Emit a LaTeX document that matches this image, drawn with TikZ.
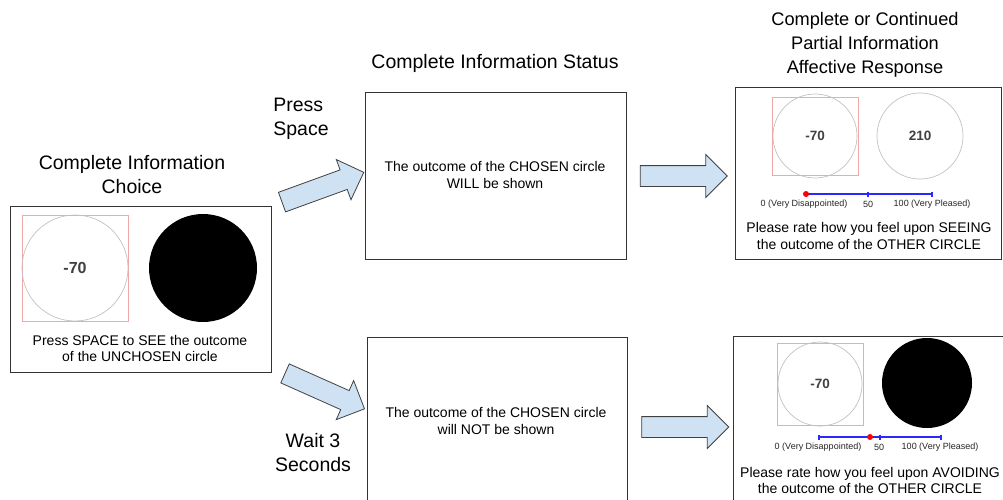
\documentclass[tikz,border=0pt]{standalone}
\usepackage{fontspec}
\setmainfont{Liberation Sans}
\usetikzlibrary{shapes.arrows}
\definecolor{arrowfill}{HTML}{CFE2F3}
\definecolor{framegray}{HTML}{333333}
\definecolor{circgray}{HTML}{C8C0C0}
\definecolor{sqred}{HTML}{F0A8A8}
\definecolor{slblue}{HTML}{2828FF}
\tikzset{
  panel/.style={draw=framegray, line width=1pt, fill=white},
  title/.style={align=center, font=\fontsize{19.5}{24}\selectfont},
  boxtext/.style={align=center, font=\fontsize{14}{16.5}\selectfont},
  small/.style={font=\fontsize{9}{10}\selectfont, text=black!85},
  numlab/.style={font=\bfseries\fontsize{16}{18}\selectfont, text=black!75},
  numsmall/.style={font=\bfseries\fontsize{13.5}{15}\selectfont, text=black!75},
  blockarrow/.style={single arrow, draw=black!75, fill=arrowfill, line width=0.8pt,
    minimum height=87pt, inner xsep=0pt, inner ysep=10pt, text width=0pt, text height=0pt, text depth=0pt,
    single arrow head extend=11pt},
  ring/.style={draw=circgray, line width=0.7pt},
  sq/.style={draw=sqred, line width=0.7pt},
  slider/.style={draw=slblue, line width=1.2pt},
}
\begin{document}
\begin{tikzpicture}[x=1pt,y=-1pt]
\useasboundingbox (0,0) rectangle (1003,500);
\fill[white] (0,0) rectangle (1003,500);

% titles
\node[title] (t1) at (132,175) {Complete Information\\Choice};
\node[title] (t2) at (495,63) {Complete Information Status};
\node[title, font=\fontsize{18.2}{24}\selectfont] (t3) at (865,45) {Complete or Continued\\Partial Information\\Affective Response};
\node[title, align=left] (lp) at (301,119) {Press\\Space};
\node[title] (lw) at (313,453) {Wait 3\\Seconds};

% left panel
\draw[panel] (10,206) rectangle (271,372);
\draw[sq] (22,215) rectangle (128,321);
\draw[ring] (75,268) circle (53);
\node[numlab] (lnum) at (75,268) {-70};
\fill[black] (203,268) circle (54);
\node[boxtext] (ltxt) at (140,348.5) {Press SPACE to SEE the outcome\\of the UNCHOSEN circle};

% middle panels
\draw[panel] (365,93) rectangle (626,259);
\node[boxtext] (mt) at (495,175) {The outcome of the CHOSEN circle\\WILL be shown};
\draw[panel] (367,337) rectangle (627,510);
\node[boxtext] (mb) at (496,421) {The outcome of the CHOSEN circle\\will NOT be shown};

% right top panel
\draw[panel] (735,88) rectangle (1001,259);
\draw[sq] (772,97) rectangle (858,175);
\draw[ring] (815,136) circle (42);
\node[numsmall] (rn1) at (815,136) {-70};
\draw[ring] (920,136) circle (43);
\node[numsmall] (rn2) at (920,136) {210};
\draw[slider] (806,194) -- (932,194);
\draw[slider] (868,191.5) -- (868,196.5);
\draw[slider] (932,191.5) -- (932,196.5);
\fill[red] (806,194) circle (3);
\node[small] (s1a) at (804,204) {0 (Very Disappointed)};
\node[small] (s1b) at (868,204) {50};
\node[small] (s1c) at (932,204) {100 (Very Pleased)};
\node[boxtext] (rt) at (869,236) {Please rate how you feel upon SEEING\\the outcome of the OTHER CIRCLE};

% right bottom panel
\draw[panel] (733,336) rectangle (1010,510);
\draw[sq] (777,343) rectangle (863,425);
\draw[ring] (820,384) circle (42);
\node[numsmall] (rn3) at (820,384) {-70};
\fill[black] (927,383) circle (45);
\draw[slider] (819,437) -- (941,437);
\draw[slider] (819,434.5) -- (819,439.5);
\draw[slider] (880,434.5) -- (880,439.5);
\draw[slider] (941,434.5) -- (941,439.5);
\fill[red] (870,437) circle (3);
\node[small] (s2a) at (818,447) {0 (Very Disappointed)};
\node[small] (s2b) at (879,447) {50};
\node[small] (s2c) at (940,447) {100 (Very Pleased)};
\node[boxtext] (rb) at (870,480.5) {Please rate how you feel upon AVOIDING\\the outcome of the OTHER CIRCLE};

% block arrows
\node[blockarrow, rotate=20] (a1) at (318,189) {};
\node[blockarrow, rotate=-24] (a2) at (320,389) {};
\node[blockarrow] (a3) at (678.5,176) {};
\node[blockarrow] (a4) at (680,427) {};
\end{tikzpicture}
\end{document}
